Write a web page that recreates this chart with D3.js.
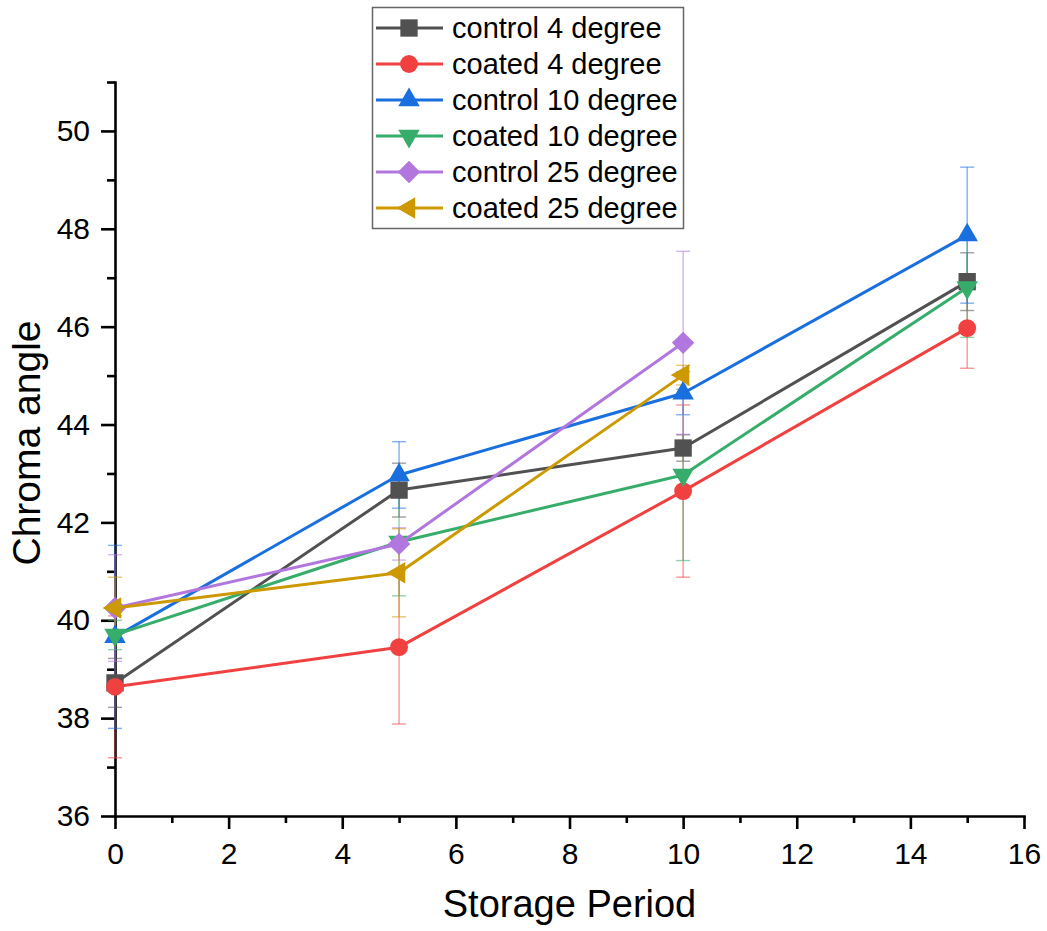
<!DOCTYPE html>
<html>
<head>
<meta charset="utf-8">
<script src="https://cdn.jsdelivr.net/npm/d3@7"></script>
<style>
  body { margin: 0; background: #fff; }
  svg { font-family: "Liberation Sans", Arial, sans-serif; }
  .axis path, .axis line { stroke: #000; stroke-width: 2.6; }
  .axis text { font-size: 30px; fill: #000; }
</style>
</head>
<body>
<svg id="chart"></svg>
<script>
// values
const periods = [0, 5, 10, 15];
const seriesNames = ['control 4 degree', 'coated 4 degree', 'control 10 degree',
  'coated 10 degree', 'control 25 degree', 'coated 25 degree'];
const control4 = [38.72, 42.66, 43.52, 46.92];
const control4Err = [0.5, 0.55, 0.27, 0.59];
const coated4 = [38.64, 39.45, 42.64, 45.97];
const coated4Err = [1.45, 1.57, 1.76, 0.82];
const control10 = [39.66, 42.97, 44.64, 47.87];
const control10Err = [1.87, 0.68, 0.44, 1.39];
const coated10 = [39.7, 41.6, 42.97, 46.8];
const coated10Err = [0.3, 1.1, 1.75, 1.02];
const control25 = [40.25, 41.56, 45.67];
const control25Err = [1.09, 0.33, 1.87];
const coated25 = [40.25, 40.97, 45.01];
const coated25Err = [0.63, 0.9, 0.2];
const xTicks = [0, 2, 4, 6, 8, 10, 12, 14, 16];
const yTicks = [36, 38, 40, 42, 44, 46, 48, 50];

const COLORS = ['#515151', '#F14040', '#1A6FDF', '#37AD6B', '#B177DE', '#CC9900'];
const SYMBOLS = [
  {type: d3.symbolSquare, size: 300, rotate: 0},
  {type: d3.symbolCircle, size: 250, rotate: 0},
  {type: d3.symbolTriangle, size: 200, rotate: 0},
  {type: d3.symbolTriangle, size: 200, rotate: 180},
  {type: d3.symbolSquare, size: 250, rotate: 45},
  {type: d3.symbolTriangle, size: 200, rotate: -90}
];

const values = [control4, coated4, control10, coated10, control25, coated25];
const errors = [control4Err, coated4Err, control10Err, coated10Err, control25Err, coated25Err];

const series = seriesNames.map((name, i) => ({
  name: name,
  points: values[i].map((v, j) => ({x: periods[j], y: v, e: errors[i][j]}))
}));

const width = 1047;
const height = 931;
const margin = {top: 82, right: 23, bottom: 115, left: 115};

const svg = d3.select('#chart')
    .attr('width', width)
    .attr('height', height);

const xScale = d3.scaleLinear().domain([0, 16]).range([margin.left, width - margin.right]);
const yScale = d3.scaleLinear().domain([36, 51]).range([height - margin.bottom, margin.top]);
const y0 = height - margin.bottom;

// minor ticks
svg.append('g')
    .attr('class', 'axis')
    .attr('transform', `translate(0,${y0})`)
    .call(d3.axisBottom(xScale).tickValues(d3.range(1, 16, 2)).tickSize(7).tickSizeOuter(0).tickFormat(''))
    .call((g) => g.select('.domain').remove());
svg.append('g')
    .attr('class', 'axis')
    .attr('transform', `translate(${margin.left},0)`)
    .call(d3.axisLeft(yScale).tickValues(d3.range(37, 52, 2)).tickSize(8).tickSizeOuter(0).tickFormat(''))
    .call((g) => g.select('.domain').remove());

// major ticks + axis lines
svg.append('g')
    .attr('class', 'axis axis--x')
    .attr('transform', `translate(0,${y0})`)
    .call(d3.axisBottom(xScale).tickValues(xTicks).tickSize(13).tickSizeOuter(0).tickPadding(14));
svg.append('g')
    .attr('class', 'axis axis--y')
    .attr('transform', `translate(${margin.left},0)`)
    .call(d3.axisLeft(yScale).tickValues(yTicks).tickSize(14).tickSizeOuter(0).tickPadding(11));

svg.selectAll('.axis path.domain').attr('stroke-linecap', 'square');

// axis titles
svg.append('text')
    .attr('x', xScale(8))
    .attr('y', 917)
    .attr('text-anchor', 'middle')
    .style('font-size', '38px')
    .text('Storage Period');
svg.append('text')
    .attr('transform', 'translate(40,443) rotate(-90)')
    .attr('text-anchor', 'middle')
    .style('font-size', '39px')
    .text('Chroma angle');

// error bars
const capW = 7;
series.forEach((s, i) => {
  const g = svg.append('g')
      .attr('stroke', COLORS[i])
      .attr('stroke-opacity', 0.55)
      .attr('stroke-width', 1.4)
      .attr('fill', 'none');
  s.points.forEach((p) => {
    const cx = xScale(p.x);
    const yTop = yScale(p.y + p.e);
    const yBot = yScale(p.y - p.e);
    g.append('line').attr('x1', cx).attr('x2', cx).attr('y1', yTop).attr('y2', yBot);
    g.append('line').attr('x1', cx - capW).attr('x2', cx + capW).attr('y1', yTop).attr('y2', yTop);
    g.append('line').attr('x1', cx - capW).attr('x2', cx + capW).attr('y1', yBot).attr('y2', yBot);
  });
});

const line = d3.line()
    .x((d) => xScale(d.x))
    .y((d) => yScale(d.y));

const symbolPath = (i) => d3.symbol().type(SYMBOLS[i].type).size(SYMBOLS[i].size)();

series.forEach((s, i) => {
  svg.append('path')
      .datum(s.points)
      .attr('fill', 'none')
      .attr('stroke', COLORS[i])
      .attr('stroke-width', 3)
      .attr('stroke-linejoin', 'round')
      .attr('d', line);

  svg.selectAll(null)
      .data(s.points)
      .enter()
      .append('path')
      .attr('fill', COLORS[i])
      .attr('transform', (d) => `translate(${xScale(d.x)},${yScale(d.y)}) rotate(${SYMBOLS[i].rotate})`)
      .attr('d', symbolPath(i));
});

// legend
const legend = svg.append('g');
legend.append('rect')
    .attr('x', 372.5)
    .attr('y', 7.5)
    .attr('width', 311)
    .attr('height', 221)
    .attr('fill', '#fff')
    .attr('stroke', '#666')
    .attr('stroke-width', 1.5);

const rowY = (i) => 28 + i * 36;

legend.selectAll('.legend-line')
    .data(seriesNames)
    .enter()
    .append('line')
    .attr('stroke', (d, i) => COLORS[i])
    .attr('stroke-width', 3)
    .attr('x1', 376)
    .attr('x2', 443)
    .attr('y1', (d, i) => rowY(i))
    .attr('y2', (d, i) => rowY(i));

legend.selectAll('.legend-symbol')
    .data(seriesNames)
    .enter()
    .append('path')
    .attr('fill', (d, i) => COLORS[i])
    .attr('transform', (d, i) => `translate(409,${rowY(i)}) rotate(${SYMBOLS[i].rotate})`)
    .attr('d', (d, i) => symbolPath(i));

legend.selectAll('.legend-text')
    .data(seriesNames)
    .enter()
    .append('text')
    .attr('x', 452)
    .attr('y', (d, i) => rowY(i) + 10)
    .style('font-size', '29px')
    .text((d) => d);
</script>
</body>
</html>
